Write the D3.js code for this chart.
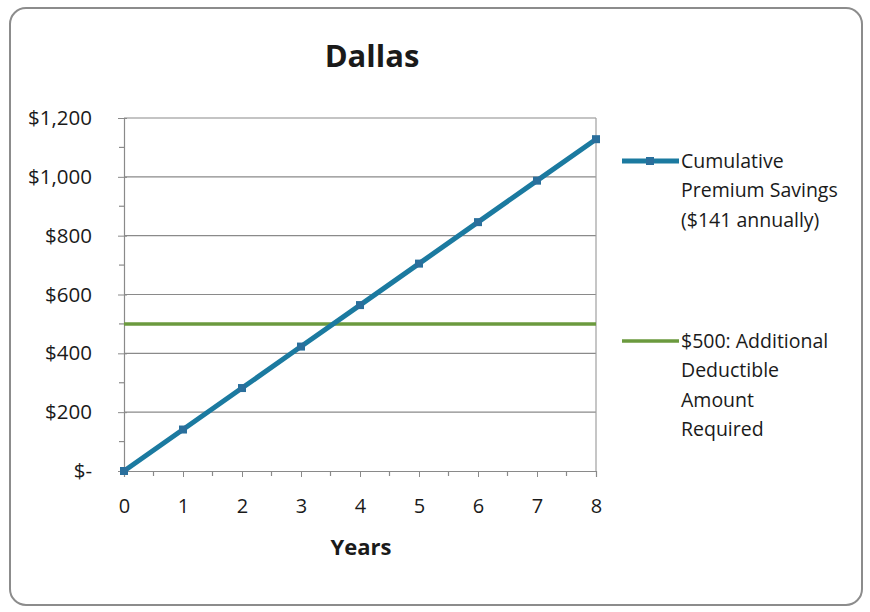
<!DOCTYPE html>
<html>
<head>
<meta charset="utf-8">
<script src="https://cdn.jsdelivr.net/npm/d3@7"></script>
<style>
  html, body { margin: 0; padding: 0; background: #fff; }
  svg { display: block; font-family: "Open Sans", sans-serif; }
</style>
</head>
<body>
<svg id="chart" width="870" height="612"></svg>
<script>
// Years since switching plans
const years = [0, 1, 2, 3, 4, 5, 6, 7, 8];
// Cumulative premium savings at $141 per year
const savings = [0, 141, 282, 423, 564, 705, 846, 987, 1128];
// Extra deductible owed under the higher-deductible plan
const deductible = [500, 500, 500, 500, 500, 500, 500, 500, 500];
const yTicks = [0, 200, 400, 600, 800, 1000, 1200];
const xTicks = [0, 1, 2, 3, 4, 5, 6, 7, 8];
const seriesNames = [
  ["Cumulative", "Premium Savings", "($141 annually)"],
  ["$500: Additional", "Deductible", "Amount", "Required"]
];

const svg = d3.select("#chart");
const font = "'Open Sans', sans-serif";
const blue = "#1b7aa0", green = "#6b9a3e", grid = "#8a8a8a", ink = "#1a1a1a";

// Outer frame
svg.append("rect")
  .attr("x", 10).attr("y", 8).attr("width", 852).attr("height", 597)
  .attr("rx", 16).attr("ry", 16)
  .attr("fill", "#fff").attr("stroke", "#8c8c8c").attr("stroke-width", 2);

const x = d3.scaleLinear().domain([0, 8]).range([124, 596]);
const y = d3.scaleLinear().domain([0, 1200]).range([471, 118]);

// Horizontal gridlines
svg.append("g").selectAll("line").data(yTicks.filter(d => d > 0)).join("line")
  .attr("x1", x(0)).attr("x2", x(8))
  .attr("y1", d => y(d)).attr("y2", d => y(d))
  .attr("stroke", grid).attr("stroke-width", 1.2);

// Right edge of plot area
svg.append("line")
  .attr("x1", x(8)).attr("x2", x(8)).attr("y1", y(1200)).attr("y2", y(0))
  .attr("stroke", "#a0a0a0").attr("stroke-width", 1.2);

// Y axis with minor ticks every 100
const yAxis = d3.axisLeft(y).tickValues(yTicks)
  .tickFormat(d => d === 0 ? "$-" : "$" + d3.format(",")(d))
  .tickSize(6).tickPadding(26);
const gy = svg.append("g").attr("transform", `translate(${x(0)},0)`).call(yAxis);
gy.select(".domain").attr("stroke", grid).attr("stroke-width", 1.2);
gy.selectAll(".tick line").attr("stroke", grid).attr("x2", -6).attr("x1", 3);
gy.selectAll(".tick text").attr("fill", ink).style("font-size", "20.5px")
  .style("font-family", font);
svg.append("g").selectAll("line").data(d3.range(100, 1200, 200)).join("line")
  .attr("x1", x(0) - 5).attr("x2", x(0))
  .attr("y1", d => y(d)).attr("y2", d => y(d))
  .attr("stroke", grid).attr("stroke-width", 1.2);

// X axis with minor ticks every half year
const xAxis = d3.axisBottom(x).tickValues(xTicks).tickSize(6).tickPadding(22);
const gx = svg.append("g").attr("transform", `translate(0,${y(0)})`).call(xAxis);
gx.select(".domain").attr("stroke", grid).attr("stroke-width", 1.2);
gx.selectAll(".tick line").attr("stroke", grid);
gx.selectAll(".tick text").attr("fill", ink).style("font-size", "20px")
  .style("font-family", font);
svg.append("g").selectAll("line").data(d3.range(0.5, 8, 1)).join("line")
  .attr("x1", d => x(d)).attr("x2", d => x(d))
  .attr("y1", y(0)).attr("y2", y(0) + 5)
  .attr("stroke", grid).attr("stroke-width", 1.2);

// Series lines
const line = d3.line().x((d, i) => x(years[i])).y(d => y(d));
svg.append("path").datum(deductible).attr("d", line)
  .attr("fill", "none").attr("stroke", green).attr("stroke-width", 3.5);
svg.append("path").datum(savings).attr("d", line)
  .attr("fill", "none").attr("stroke", blue).attr("stroke-width", 5)
  .attr("stroke-linecap", "round");
svg.append("g").selectAll("rect").data(savings).join("rect")
  .attr("x", (d, i) => x(years[i]) - 4).attr("y", d => y(d) - 4)
  .attr("width", 8).attr("height", 8)
  .attr("fill", "#2a6f9c");

// Title and axis title
svg.append("text").attr("x", 372).attr("y", 67).attr("text-anchor", "middle")
  .attr("font-weight", "bold").attr("font-size", 31).attr("fill", ink).text("Dallas");
svg.append("text").attr("x", 361).attr("y", 555).attr("text-anchor", "middle")
  .attr("font-weight", "bold").attr("font-size", 22).attr("fill", ink).text("Years");

// Legend
const legendTop = [161, 341];
const legendColors = [blue, green];
seriesNames.forEach((lines, k) => {
  const g = svg.append("g");
  g.append("line").attr("x1", 622).attr("x2", 679)
    .attr("y1", legendTop[k]).attr("y2", legendTop[k])
    .attr("stroke", legendColors[k]).attr("stroke-width", k === 0 ? 5 : 3.5);
  if (k === 0) {
    g.append("rect").attr("x", 646).attr("y", legendTop[k] - 4)
      .attr("width", 8).attr("height", 8).attr("fill", "#2a6f9c");
  }
  lines.forEach((t, j) => {
    g.append("text").attr("x", 681).attr("y", legendTop[k] + j * 29.5)
      .attr("dy", "0.35em").attr("font-size", 19.5).attr("fill", ink).text(t);
  });
});
</script>
</body>
</html>
